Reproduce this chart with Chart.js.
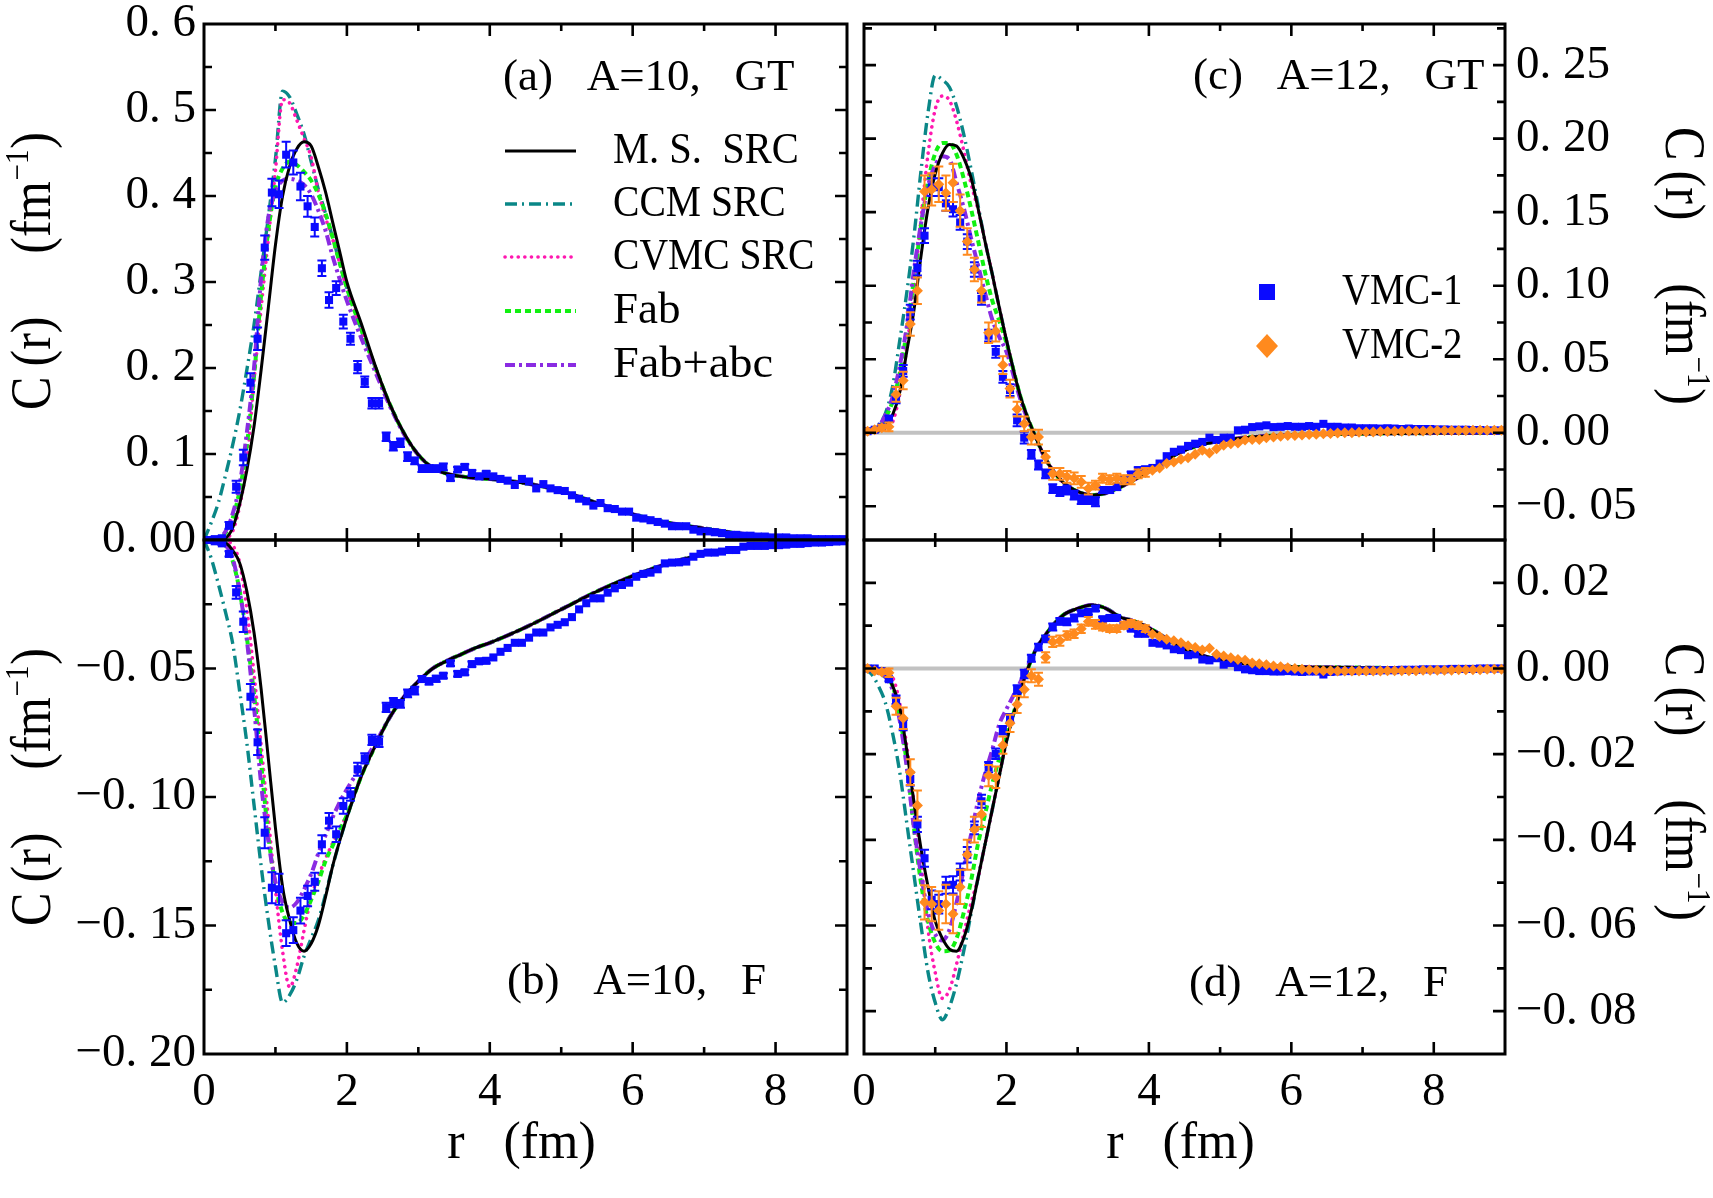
<!DOCTYPE html>
<html>
<head>
<meta charset="utf-8">
<title>C(r) panels</title>
<script src="https://cdn.jsdelivr.net/npm/chart.js"></script>
<style>
  body { margin: 0; background: #fff; }
  #wrap { position: relative; width: 1713px; height: 1198px; }
  #wrap canvas { position: absolute; left: 0; top: 0; }
</style>
</head>
<body>
<div id="wrap">
  <canvas id="panelA" width="1713" height="1198"></canvas>
  <canvas id="panelB" width="1713" height="1198"></canvas>
  <canvas id="panelC" width="1713" height="1198"></canvas>
  <canvas id="panelD" width="1713" height="1198"></canvas>
</div>
<script>
// r grid of the model curves (fm)
let rCurve = [0,0.1,0.2,0.3,0.4,0.5,0.6,0.7,0.8,0.9,1.0,
  1.1,1.2,1.3,1.4,1.5,1.6,1.7,1.8,1.9,2.0,
  2.2,2.4,2.6,2.8,3.0,3.2,3.4,3.6,3.8,4.0,
  4.5,5.0,5.5,6.0,6.5,7.0,7.5,8.0,8.5,9.0];

// r of the VMC points (fm)
let rPts = [0.05,0.15,0.25,0.35,0.45,0.55,0.65,0.75,0.85,0.95,
  1.05,1.15,1.25,1.35,1.45,1.55,1.65,1.75,1.85,1.95,
  2.05,2.15,2.25,2.35,2.45,2.55,2.65,2.75,2.85,2.95,
  3.05,3.15,3.25,3.35,3.45,3.55,3.65,3.75,3.85,3.95,
  4.05,4.15,4.25,4.35,4.45,4.55,4.65,4.75,4.85,4.95,
  5.05,5.15,5.25,5.35,5.45,5.55,5.65,5.75,5.85,5.95,
  6.05,6.15,6.25,6.35,6.45,6.55,6.65,6.75,6.85,6.95,
  7.05,7.15,7.25,7.35,7.45,7.55,7.65,7.75,7.85,7.95,
  8.05,8.15,8.25,8.35,8.45,8.55,8.65,8.75,8.85,8.95];

// (a) A=10, GT
let msA = [0,0,0,0.002,0.014,0.042,0.081,0.132,0.198,0.27,0.343,
  0.40,0.435,0.455,0.463,0.458,0.434,0.405,0.37,0.335,0.30,
  0.252,0.202,0.158,0.124,0.099,0.084,0.077,0.074,0.072,0.071,
  0.066,0.057,0.043,0.030,0.020,0.0135,0.0076,0.0043,0.0022,0.0006];
let ccmA = [0,0.02,0.043,0.075,0.11,0.15,0.198,0.25,0.312,0.375,0.443,
  0.522,0.515,0.495,0.472,0.44,0.408,0.38,0.352,0.322,0.293,
  0.245,0.2,0.158,0.124,0.099,0.084,0.077,0.074,0.072,0.071,
  0.066,0.057,0.043,0.030,0.020,0.0135,0.0076,0.0043,0.0022,0.0006];
let cvmcA = [0,0,0,0.002,0.01,0.04,0.09,0.185,0.27,0.35,0.43,
  0.512,0.508,0.488,0.467,0.445,0.405,0.375,0.35,0.322,0.293,
  0.245,0.2,0.158,0.124,0.099,0.084,0.077,0.074,0.072,0.071,
  0.066,0.057,0.043,0.030,0.020,0.0135,0.0076,0.0043,0.0022,0.0006];
let fabA = [0,0,0.002,0.008,0.025,0.058,0.11,0.19,0.285,0.36,0.41,
  0.432,0.44,0.436,0.428,0.418,0.402,0.38,0.352,0.322,0.293,
  0.245,0.2,0.158,0.124,0.099,0.084,0.077,0.074,0.072,0.071,
  0.066,0.057,0.043,0.030,0.020,0.0135,0.0076,0.0043,0.0022,0.0006];
let fabcA = [0,0,0.002,0.01,0.03,0.065,0.125,0.2,0.305,0.375,0.405,
  0.418,0.42,0.418,0.413,0.402,0.383,0.36,0.33,0.303,0.278,
  0.235,0.195,0.156,0.123,0.099,0.084,0.077,0.074,0.072,0.071,
  0.066,0.057,0.043,0.030,0.020,0.0135,0.0076,0.0043,0.0022,0.0006];
let vmc1A = [0,0.001,0.002,0.017,0.062,0.096,0.183,0.234,0.340,0.404,
  0.402,0.448,0.439,0.411,0.388,0.364,0.316,0.279,0.293,0.254,
  0.234,0.201,0.184,0.159,0.159,0.120,0.109,0.113,0.097,0.092,
  0.083,0.083,0.083,0.085,0.072,0.082,0.085,0.078,0.074,0.077,
  0.074,0.071,0.069,0.064,0.071,0.068,0.060,0.065,0.060,0.058,
  0.057,0.052,0.048,0.045,0.040,0.043,0.037,0.036,0.033,0.033,
  0.026,0.025,0.023,0.021,0.019,0.016,0.016,0.016,0.012,0.010,
  0.010,0.009,0.008,0.006,0.006,0.005,0.005,0.004,0.004,0.003,
  0.003,0.003,0.002,0.002,0.002,0.001,0.001,0.001,0.001,0.001];
let errA = [0,0,0.002,0.004,0.007,0.009,0.011,0.013,0.014,0.016,
  0.016,0.015,0.014,0.016,0.012,0.011,0.009,0.009,0.008,0.008,
  0.007,0.007,0.006,0.006,0.006,0.005,0.005,0.005,0.005,0.004,
  0.004,0.004,0.004,0.004,0.003,0.003,0.003,0.003,0.003,0.003];

// (b) A=10, F
let msB = [0,0,0,-0.001,-0.004,-0.009,-0.02,-0.036,-0.058,-0.085,-0.112,
  -0.135,-0.148,-0.157,-0.16,-0.157,-0.15,-0.139,-0.127,-0.117,-0.108,
  -0.092,-0.08,-0.069,-0.061,-0.055,-0.050,-0.047,-0.0445,-0.042,-0.040,
  -0.034,-0.027,-0.020,-0.014,-0.0091,-0.0055,-0.0032,-0.0015,-0.0007,-0.0002];
let ccmB = [0,-0.007,-0.017,-0.028,-0.04,-0.059,-0.079,-0.103,-0.127,-0.148,-0.166,
  -0.18,-0.177,-0.171,-0.162,-0.155,-0.148,-0.138,-0.127,-0.117,-0.108,
  -0.092,-0.08,-0.069,-0.061,-0.055,-0.050,-0.047,-0.0445,-0.042,-0.040,
  -0.034,-0.027,-0.020,-0.014,-0.0091,-0.0055,-0.0032,-0.0015,-0.0007,-0.0002];
let cvmcB = [0,0,0,-0.0005,-0.002,-0.009,-0.027,-0.052,-0.08,-0.108,-0.136,
  -0.16,-0.174,-0.166,-0.152,-0.139,-0.131,-0.124,-0.118,-0.112,-0.107,
  -0.092,-0.08,-0.069,-0.061,-0.055,-0.050,-0.047,-0.0445,-0.042,-0.040,
  -0.034,-0.027,-0.020,-0.014,-0.0091,-0.0055,-0.0032,-0.0015,-0.0007,-0.0002];
let fabB = [0,0,0,-0.002,-0.008,-0.02,-0.038,-0.06,-0.087,-0.115,-0.134,
  -0.145,-0.149,-0.149,-0.146,-0.14,-0.133,-0.125,-0.119,-0.113,-0.107,
  -0.092,-0.08,-0.069,-0.061,-0.055,-0.050,-0.047,-0.0445,-0.042,-0.040,
  -0.034,-0.027,-0.020,-0.014,-0.0091,-0.0055,-0.0032,-0.0015,-0.0007,-0.0002];
let fabcB = [0,0,0,-0.002,-0.007,-0.02,-0.039,-0.065,-0.095,-0.117,-0.133,
  -0.141,-0.143,-0.141,-0.136,-0.13,-0.122,-0.115,-0.108,-0.102,-0.097,
  -0.088,-0.079,-0.069,-0.061,-0.055,-0.050,-0.047,-0.0445,-0.042,-0.040,
  -0.034,-0.027,-0.020,-0.014,-0.0091,-0.0055,-0.0032,-0.0015,-0.0007,-0.0002];
let vmc1B = [0,-0.0005,-0.0013,-0.0054,-0.0204,-0.0318,-0.061,-0.0787,-0.1139,-0.1353,
  -0.1359,-0.153,-0.1518,-0.1442,-0.1385,-0.133,-0.1184,-0.1092,-0.1145,-0.1035,
  -0.099,-0.0892,-0.085,-0.0778,-0.0785,-0.0651,-0.0633,-0.0638,-0.0597,-0.0586,
  -0.0541,-0.055,-0.054,-0.0528,-0.048,-0.0521,-0.0515,-0.0483,-0.0472,-0.047,
  -0.0457,-0.0435,-0.042,-0.040,-0.040,-0.038,-0.036,-0.036,-0.034,-0.033,
  -0.032,-0.030,-0.027,-0.0246,-0.0227,-0.0227,-0.0205,-0.0188,-0.0175,-0.0166,
  -0.0143,-0.0132,-0.0127,-0.0114,-0.0091,-0.0088,-0.0087,-0.0084,-0.0065,-0.0054,
  -0.0049,-0.0049,-0.0045,-0.0039,-0.0039,-0.0026,-0.0023,-0.0023,-0.0023,-0.002,
  -0.002,-0.0018,-0.0015,-0.0015,-0.0012,-0.001,-0.001,-0.0008,-0.0006,-0.0005];
let errB = [0,0,0.0005,0.001,0.0025,0.004,0.005,0.005,0.006,0.006,
  0.006,0.005,0.005,0.005,0.004,0.0035,0.0035,0.003,0.003,0.003,
  0.0025,0.0025,0.002,0.002,0.002,0.0018,0.0018,0.0015,0.0015,0.0015,
  0.0012,0.0012,0.0012,0.001,0.001,0.001,0.001,0.001,0.001,0.001];

// (c) A=12, GT
let msC = [0,0.0003,0.001,0.004,0.012,0.027,0.055,0.083,0.12,0.153,0.176,
  0.19,0.196,0.195,0.187,0.174,0.153,0.13,0.108,0.085,0.063,
  0.024,-0.002,-0.022,-0.034,-0.040,-0.0425,-0.041,-0.037,-0.032,-0.026,
  -0.012,-0.0055,-0.0027,-0.0015,-0.001,-0.0007,-0.0005,-0.0003,-0.0002,-0.0001];
let ccmC = [0,0.001,0.005,0.013,0.031,0.062,0.095,0.133,0.178,0.218,0.243,
  0.24,0.235,0.222,0.203,0.18,0.155,0.13,0.108,0.085,0.063,
  0.024,-0.002,-0.022,-0.034,-0.040,-0.0425,-0.041,-0.037,-0.032,-0.026,
  -0.012,-0.0055,-0.0027,-0.0015,-0.001,-0.0007,-0.0005,-0.0003,-0.0002,-0.0001];
let cvmcC = [0,0,0.001,0.003,0.007,0.026,0.058,0.097,0.145,0.19,0.22,
  0.229,0.226,0.212,0.192,0.17,0.152,0.13,0.108,0.085,0.063,
  0.024,-0.002,-0.022,-0.034,-0.040,-0.0425,-0.041,-0.037,-0.032,-0.026,
  -0.012,-0.0055,-0.0027,-0.0015,-0.001,-0.0007,-0.0005,-0.0003,-0.0002,-0.0001];
let fabC = [0,0.001,0.003,0.01,0.021,0.04,0.069,0.104,0.14,0.171,0.19,
  0.197,0.197,0.189,0.173,0.153,0.131,0.109,0.09,0.076,0.061,
  0.024,-0.002,-0.022,-0.034,-0.040,-0.0425,-0.041,-0.037,-0.032,-0.026,
  -0.012,-0.0055,-0.0027,-0.0015,-0.001,-0.0007,-0.0005,-0.0003,-0.0002,-0.0001];
let fabcC = [0,0.001,0.004,0.012,0.024,0.045,0.072,0.11,0.142,0.168,0.182,
  0.188,0.186,0.17,0.153,0.133,0.114,0.095,0.077,0.065,0.055,
  0.022,-0.003,-0.022,-0.034,-0.040,-0.0425,-0.041,-0.037,-0.032,-0.026,
  -0.012,-0.0055,-0.0027,-0.0015,-0.001,-0.0007,-0.0005,-0.0003,-0.0002,-0.0001];
let vmc1C = [0.001,0.002,0.004,0.0095,0.023,0.042,0.082,0.112,0.134,0.167,
  0.167,0.156,0.152,0.143,0.130,0.111,0.091,0.066,0.055,0.038,
  0.029,0.0084,-0.0034,-0.0147,-0.022,-0.028,-0.038,-0.040,-0.039,-0.0425,
  -0.0455,-0.0455,-0.047,-0.039,-0.039,-0.037,-0.032,-0.0285,-0.0255,-0.025,
  -0.024,-0.021,-0.016,-0.013,-0.0115,-0.009,-0.0075,-0.0063,-0.0034,-0.005,
  -0.0034,-0.0034,0.0016,0.002,0.0038,0.0043,0.005,0.0038,0.004,0.0045,
  0.004,0.004,0.0045,0.004,0.006,0.004,0.004,0.0035,0.0035,0.003,
  0.003,0.003,0.0028,0.003,0.0028,0.0025,0.0028,0.0025,0.0025,0.0025,
  0.0022,0.0022,0.002,0.002,0.002,0.0018,0.0018,0.0015,0.0015,0.0015];
let errC1 = [0,0,0.001,0.002,0.003,0.004,0.005,0.005,0.005,0.006,
  0.006,0.005,0.005,0.005,0.005,0.005,0.004,0.004,0.004,0.004,
  0.004,0.004,0.004,0.003,0.003,0.003,0.003,0.003,0.003,0.003,
  0.003,0.003,0.003,0.002,0.002,0.002,0.002,0.002,0.002,0.002];
let vmc2C = [0.001,0.002,0.0034,0.004,0.026,0.0355,0.074,0.0966,0.164,0.1655,
  0.169,0.163,0.170,0.151,0.130,0.111,0.0966,0.068,0.069,0.046,
  0.030,0.016,0.006,-0.003,-0.003,-0.0165,-0.028,-0.028,-0.030,-0.031,
  -0.0335,-0.038,-0.0357,-0.031,-0.032,-0.031,-0.032,-0.032,-0.028,-0.027,
  -0.0255,-0.024,-0.021,-0.020,-0.018,-0.017,-0.0147,-0.012,-0.0138,-0.011,
  -0.0086,-0.0075,-0.007,-0.005,-0.0047,-0.0047,-0.0034,-0.003,-0.0025,-0.002,
  -0.002,-0.0015,-0.0012,-0.001,-0.0008,-0.0005,-0.0003,0,0,0.0003,
  0.0005,0.0005,0.0008,0.0008,0.001,0.001,0.0012,0.0012,0.0012,0.0015,
  0.0015,0.0015,0.0015,0.0015,0.0015,0.0016,0.0016,0.0016,0.0016,0.0016];
let errC2 = [0,0,0.002,0.003,0.005,0.006,0.008,0.009,0.011,0.011,
  0.012,0.012,0.013,0.011,0.009,0.008,0.008,0.007,0.007,0.006,
  0.006,0.005,0.005,0.005,0.005,0.004,0.004,0.004,0.004,0.004,
  0.004,0.004,0.003,0.003,0.003,0.003,0.003,0.003,0.003,0.003];

// (d) A=12, F
let msD = [0,0,-0.0003,-0.0008,-0.004,-0.009,-0.019,-0.031,-0.042,-0.051,-0.059,
  -0.063,-0.0655,-0.066,-0.063,-0.057,-0.049,-0.041,-0.033,-0.025,-0.017,
  -0.005,0.004,0.009,0.0125,0.014,0.0148,0.014,0.012,0.011,0.0095,
  0.0045,0.002,0.0009,0.0004,0.0003,0.0002,0.0001,0,0,0];
let ccmD = [0,-0.0012,-0.004,-0.008,-0.015,-0.024,-0.036,-0.048,-0.06,-0.071,-0.078,
  -0.082,-0.079,-0.0735,-0.066,-0.0575,-0.049,-0.041,-0.033,-0.025,-0.017,
  -0.005,0.004,0.009,0.0125,0.014,0.0148,0.014,0.012,0.011,0.0095,
  0.0045,0.002,0.0009,0.0004,0.0003,0.0002,0.0001,0,0,0];
let cvmcD = [0,0,-0.0005,-0.001,-0.002,-0.008,-0.018,-0.031,-0.045,-0.061,-0.071,
  -0.077,-0.075,-0.069,-0.062,-0.055,-0.049,-0.041,-0.033,-0.025,-0.017,
  -0.005,0.004,0.009,0.0125,0.014,0.0148,0.014,0.012,0.011,0.0095,
  0.0045,0.002,0.0009,0.0004,0.0003,0.0002,0.0001,0,0,0];
let fabD = [0,0,-0.001,-0.002,-0.004,-0.011,-0.022,-0.037,-0.05,-0.059,-0.064,
  -0.066,-0.0658,-0.063,-0.057,-0.0498,-0.041,-0.034,-0.027,-0.021,-0.016,
  -0.005,0.004,0.009,0.0125,0.014,0.0148,0.014,0.012,0.011,0.0095,
  0.0045,0.002,0.0009,0.0004,0.0003,0.0002,0.0001,0,0,0];
let fabcD = [0,0,-0.001,-0.002,-0.005,-0.012,-0.023,-0.037,-0.048,-0.057,-0.062,
  -0.0635,-0.061,-0.0546,-0.047,-0.039,-0.031,-0.0245,-0.019,-0.013,-0.0095,
  -0.003,0.004,0.009,0.0125,0.014,0.0148,0.014,0.012,0.011,0.0095,
  0.0045,0.002,0.0009,0.0004,0.0003,0.0002,0.0001,0,0,0];
let vmc1D = [0,0,-0.0006,-0.0025,-0.0073,-0.0132,-0.0258,-0.0364,-0.0443,-0.054,
  -0.055,-0.0506,-0.0505,-0.0475,-0.0435,-0.0372,-0.031,-0.023,-0.0199,-0.0144,
  -0.0116,-0.0049,-0.0013,0.0024,0.005,0.0069,0.0097,0.011,0.0109,0.0118,
  0.0129,0.0132,0.014,0.0115,0.0118,0.0118,0.0101,0.0093,0.0081,0.0081,
  0.006,0.0058,0.0054,0.0045,0.0043,0.0031,0.0033,0.0021,0.0019,0.0024,
  0.0009,0.0013,0.0003,-0.0002,-0.0004,-0.0006,-0.0006,-0.0007,-0.0007,-0.0006,
  -0.0007,-0.0008,-0.0007,-0.0007,-0.0014,-0.0008,-0.0007,-0.0006,-0.0006,-0.0005,
  -0.0005,-0.0005,-0.0004,-0.0004,-0.0004,-0.0003,-0.0003,-0.0003,-0.0002,-0.0002,
  -0.0002,-0.0002,-0.0001,-0.0001,-0.0001,-0.0001,0,0,0,0];
let errD1 = [0,0,0.0003,0.0005,0.001,0.0012,0.0015,0.0018,0.002,0.0022,
  0.0022,0.002,0.002,0.002,0.0018,0.0015,0.0015,0.0012,0.0012,0.001,
  0.001,0.001,0.001,0.0008,0.0008,0.0008,0.0008,0.0008,0.0008,0.0008,
  0.0006,0.0006,0.0006,0.0006,0.0006,0.0005,0.0005,0.0005,0.0005,0.0005];
let vmc2D = [0,-0.0005,-0.0008,-0.001,-0.0088,-0.0116,-0.0242,-0.032,-0.0546,-0.055,
  -0.0565,-0.055,-0.0573,-0.051,-0.0435,-0.0376,-0.034,-0.025,-0.0254,-0.0179,
  -0.0128,-0.0084,-0.0049,-0.0017,-0.0025,0.0026,0.0062,0.0065,0.0077,0.0081,
  0.0093,0.011,0.0103,0.0097,0.0093,0.0093,0.0101,0.0105,0.0101,0.0093,
  0.008,0.0075,0.0068,0.0065,0.006,0.0053,0.0049,0.0043,0.0047,0.0033,
  0.0029,0.0025,0.0021,0.0019,0.0013,0.0011,0.0009,0.0006,0.0004,0.0002,
  0,-0.0002,-0.0003,-0.0004,-0.0005,-0.0005,-0.0006,-0.0006,-0.0006,-0.0006,
  -0.0006,-0.0006,-0.0006,-0.0005,-0.0005,-0.0005,-0.0005,-0.0005,-0.0004,-0.0004,
  -0.0004,-0.0004,-0.0004,-0.0003,-0.0003,-0.0003,-0.0003,-0.0002,-0.0002,-0.0002];
let errD2 = [0,0,0.0005,0.001,0.002,0.0025,0.003,0.0035,0.004,0.004,
  0.0045,0.0045,0.0045,0.004,0.0035,0.003,0.003,0.0025,0.0025,0.002,
  0.002,0.002,0.0018,0.0015,0.0015,0.0012,0.0012,0.0012,0.001,0.001,
  0.001,0.001,0.001,0.0008,0.0008,0.0008,0.0008,0.0008,0.0008,0.0008];

let xTickLabels = [0, 2, 4, 6, 8];

const FONT = "'Liberation Serif', 'Times New Roman', serif";
const W = 1713, H = 1198;
const BLUE = '#0a0aff', ORANGE = '#ff8a1e', TEAL = '#0a8787', PINK = '#ff18b0',
      GREEN = '#11f011', PURPLE = '#8a2be2';
const Y_AXIS_W = 160, X_AXIS_H = 90;

function isMult(v, step) {
  let k = v / step;
  return Math.abs(k - Math.round(k)) < 1e-6;
}

function fmt(v, dec) {
  let s = Math.abs(v).toFixed(dec).replace('.', '. ');
  return (v < -1e-9 ? '\u2212' : '') + s;
}

// text squeezed a little sideways, like the narrow font of the original
function squeezeText(ctx, s, x, y, size, sx) {
  ctx.save();
  ctx.font = size + 'px ' + FONT;
  ctx.translate(x, y);
  ctx.scale(sx, 1);
  ctx.fillText(s, 0, 0);
  ctx.restore();
}

// ERROR BARS + FRAME + TEXT
const deco = {
  id: 'deco',
  beforeDatasetsDraw(chart, args, o) {
    if (!o.zeroLine) return;
    const {ctx, chartArea: a, scales: {y}} = chart;
    let py = y.getPixelForValue(0);
    ctx.save();
    ctx.strokeStyle = '#c2c2c2';
    ctx.lineWidth = 4;
    ctx.beginPath(); ctx.moveTo(a.left, py); ctx.lineTo(a.right, py); ctx.stroke();
    ctx.restore();
  },
  beforeDatasetDraw(chart, args) {
    let ds = chart.data.datasets[args.index];
    if (!ds.errs) return;
    const {ctx, scales: {x, y}} = chart;
    ctx.save();
    ctx.strokeStyle = ds.pointBackgroundColor;
    ctx.lineWidth = 2;
    ds.errs.forEach((e, i) => {
      if (!e) return;
      let p = ds.data[i];
      let px = x.getPixelForValue(p.x);
      let y1 = y.getPixelForValue(p.y - e), y2 = y.getPixelForValue(p.y + e);
      ctx.beginPath();
      ctx.moveTo(px, y1); ctx.lineTo(px, y2);
      ctx.moveTo(px - 4.5, y1); ctx.lineTo(px + 4.5, y1);
      ctx.moveTo(px - 4.5, y2); ctx.lineTo(px + 4.5, y2);
      ctx.stroke();
    });
    ctx.restore();
  },
  afterDraw(chart, args, o) {
    const {ctx, chartArea: a, scales: {x, y}} = chart;
    ctx.save();
    ctx.strokeStyle = '#000';
    ctx.lineWidth = 3;
    ctx.strokeRect(a.left, a.top, a.right - a.left, a.bottom - a.top);
    ctx.lineWidth = 2.6;
    x.ticks.forEach(t => {
      let v = t.value;
      if (v < 0.01 || v > 8.99) return;
      let px = x.getPixelForValue(v);
      let len = isMult(v, 2) ? 12 : 7;
      ctx.beginPath();
      ctx.moveTo(px, a.bottom); ctx.lineTo(px, a.bottom - len);
      ctx.moveTo(px, a.top); ctx.lineTo(px, a.top + len);
      ctx.stroke();
    });
    y.ticks.forEach(t => {
      let py = y.getPixelForValue(t.value);
      if (py < a.top + 3 || py > a.bottom - 3) return;
      let len = isMult(t.value, o.yMajor) ? 12 : 8;
      ctx.beginPath();
      ctx.moveTo(a.left, py); ctx.lineTo(a.left + len, py);
      ctx.moveTo(a.right, py); ctx.lineTo(a.right - len, py);
      ctx.stroke();
    });

    ctx.fillStyle = '#000';
    ctx.textAlign = 'left';
    ctx.textBaseline = 'middle';
    squeezeText(ctx, o.tag, o.tagX, o.tagY, 45, 1);

    if (o.legend === 'lines') {
      let rows = [['M.S. SRC', 'M. S.  SRC', 151, 0.9], ['CCM SRC', 'CCM SRC', 204, 0.88],
                  ['CVMC SRC', 'CVMC SRC', 257, 0.88], ['Fab', 'Fab', 311, 1], ['Fab+abc', 'Fab+abc', 365, 1.03]];
      rows.forEach(([lab, txt, ry, sx]) => {
        let ds = chart.data.datasets.find(d => d.label === lab);
        ctx.save();
        ctx.strokeStyle = ds.borderColor;
        ctx.lineWidth = ds.borderWidth;
        ctx.setLineDash(ds.borderDash || []);
        ctx.lineCap = ds.borderCapStyle || 'butt';
        ctx.beginPath(); ctx.moveTo(505, ry); ctx.lineTo(576, ry); ctx.stroke();
        ctx.restore();
        squeezeText(ctx, txt, 613, ry, 45, sx);
      });
    }
    if (o.legend === 'points') {
      ctx.fillStyle = BLUE;
      ctx.fillRect(1267 - 8, 292 - 8, 16, 16);
      ctx.fillStyle = ORANGE;
      ctx.beginPath();
      ctx.moveTo(1267, 346 - 12); ctx.lineTo(1267 + 11, 346);
      ctx.lineTo(1267, 346 + 12); ctx.lineTo(1267 - 11, 346);
      ctx.closePath(); ctx.fill();
      ctx.fillStyle = '#000';
      squeezeText(ctx, 'VMC-1', 1342, 292, 45, 0.86);
      squeezeText(ctx, 'VMC-2', 1342, 346, 45, 0.86);
    }

    // axis titles
    drawYTitle(ctx, o.titleX, o.titleY, o.titleRot);
    if (o.xTitle) {
      ctx.font = '52px ' + FONT;
      ctx.textAlign = 'center';
      ctx.textBaseline = 'alphabetic';
      ctx.fillText('r   (fm)', (a.left + a.right) / 2 - 4, 1146 + 12);
    }
    ctx.restore();
  }
};

function drawYTitle(ctx, cx, cy, rot) {
  const main = 'C\u2009(r)     (fm', sup = '\u22121', tail = ')';
  ctx.save();
  ctx.translate(cx, cy);
  ctx.rotate(rot);
  ctx.scale(0.88, 1);
  ctx.fillStyle = '#000';
  ctx.textAlign = 'left';
  ctx.textBaseline = 'alphabetic';
  ctx.font = '57px ' + FONT;
  let w1 = ctx.measureText(main).width, w3 = ctx.measureText(tail).width;
  ctx.font = '33px ' + FONT;
  let w2 = ctx.measureText(sup).width;
  let x0 = -(w1 + w2 + w3 + 2) / 2;
  ctx.font = '57px ' + FONT;
  ctx.fillText(main, x0, 13);
  ctx.font = '33px ' + FONT;
  ctx.fillText(sup, x0 + w1 + 1, -9);
  ctx.font = '57px ' + FONT;
  ctx.fillText(tail, x0 + w1 + w2 + 2, 13);
  ctx.restore();
}

function curveSet(label, ys, color, dash, width, cap) {
  return {
    label, data: rCurve.map((r, i) => ({x: r, y: ys[i]})),
    borderColor: color, borderWidth: width, borderDash: dash, borderCapStyle: cap || 'butt',
    pointRadius: 0, fill: false, cubicInterpolationMode: 'monotone'
  };
}

function pointSet(label, ys, errs, color, style, radius) {
  return {
    label, data: rPts.map((r, i) => ({x: r, y: ys[i]})), errs,
    showLine: false, pointStyle: style, pointRadius: radius,
    pointBackgroundColor: color, pointBorderWidth: 0, borderColor: color
  };
}

const panels = [
  {id: 'panelA', box: [204, 24, 847, 540], yMin: 0, yMax: 0.6, yStep: 0.05, yMajor: 0.1, dec: 1, skipZero: true,
   yPos: 'left', xLabels: false, curves: [msA, ccmA, cvmcA, fabA, fabcA], v1: [vmc1A, errA],
   deco: {tag: '(a)   A=10,   GT', tagX: 503, tagY: 78, legend: 'lines', yMajor: 0.1,
          titleX: 37, titleY: 271, titleRot: -Math.PI / 2, zeroLine: false, xTitle: false}},
  {id: 'panelB', box: [204, 540, 847, 1054], yMin: -0.2, yMax: 0, yStep: 0.025, yMajor: 0.05, dec: 2, skipZero: false,
   yPos: 'left', xLabels: true, curves: [msB, ccmB, cvmcB, fabB, fabcB], v1: [vmc1B, errB],
   deco: {tag: '(b)   A=10,   F', tagX: 507, tagY: 982, legend: 'none', yMajor: 0.05,
          titleX: 37, titleY: 787, titleRot: -Math.PI / 2, zeroLine: false, xTitle: true}},
  {id: 'panelC', box: [864, 24, 1505, 540], yMin: -0.073, yMax: 0.278, yStep: 0.025, yMajor: 0.05, dec: 2, skipZero: false,
   yPos: 'right', xLabels: false, curves: [msC, ccmC, cvmcC, fabC, fabcC], v1: [vmc1C, errC1], v2: [vmc2C, errC2],
   deco: {tag: '(c)   A=12,   GT', tagX: 1193, tagY: 77, legend: 'points', yMajor: 0.05,
          titleX: 1679, titleY: 266, titleRot: Math.PI / 2, zeroLine: true, xTitle: false}},
  {id: 'panelD', box: [864, 540, 1505, 1054], yMin: -0.09, yMax: 0.03, yStep: 0.01, yMajor: 0.02, dec: 2, skipZero: false,
   yPos: 'right', xLabels: true, curves: [msD, ccmD, cvmcD, fabD, fabcD], v1: [vmc1D, errD1], v2: [vmc2D, errD2],
   deco: {tag: '(d)   A=12,   F', tagX: 1189, tagY: 984, legend: 'none', yMajor: 0.02,
          titleX: 1679, titleY: 782, titleRot: Math.PI / 2, zeroLine: true, xTitle: true}}
];

panels.forEach(p => {
  const [L, T, R, B] = p.box;
  const [ms, ccm, cvmc, fab, fabc] = p.curves;
  let datasets = [];
  if (p.v2) datasets.push(pointSet('VMC-2', p.v2[0], p.v2[1], ORANGE, 'rectRot', 5.5));
  datasets.push(pointSet('VMC-1', p.v1[0], p.v1[1], BLUE, 'rect', 5.7));
  datasets.push(curveSet('M.S. SRC', ms, '#000000', [], 3));
  datasets.push(curveSet('Fab+abc', fabc, PURPLE, [10, 4, 3, 4], 4));
  datasets.push(curveSet('Fab', fab, GREEN, [6, 4], 4));
  datasets.push(curveSet('CVMC SRC', cvmc, PINK, [0.1, 6.5], 3.6, 'round'));
  datasets.push(curveSet('CCM SRC', ccm, TEAL, [12, 5, 2, 5], 3.4));

  // the axis boxes need real size, or Chart.js clips their labels away
  let xH = p.xLabels ? X_AXIS_H : 0;
  let pad = {
    left: p.yPos === 'left' ? L - Y_AXIS_W : L,
    right: p.yPos === 'right' ? W - R - Y_AXIS_W : W - R,
    top: T,
    bottom: H - B - xH
  };

  new Chart(document.getElementById(p.id), {
    type: 'line',
    data: {datasets},
    options: {
      responsive: false,
      animation: false,
      devicePixelRatio: 1,
      layout: {padding: pad, autoPadding: false},
      plugins: {legend: {display: false}, tooltip: {enabled: false}, deco: p.deco},
      scales: {
        x: {
          type: 'linear', min: 0, max: 9,
          grid: {display: false, drawTicks: false}, border: {display: false},
          ticks: {
            display: p.xLabels, stepSize: 1, autoSkip: false, maxRotation: 0, includeBounds: false,
            padding: 10, color: '#000', font: {family: FONT, size: 47},
            callback: v => xTickLabels.includes(v) ? String(v) : ''
          },
          afterFit: s => { s.height = xH; s.paddingLeft = 0; s.paddingRight = 0; }
        },
        y: {
          type: 'linear', position: p.yPos, min: p.yMin, max: p.yMax,
          grid: {display: false, drawTicks: false}, border: {display: false},
          ticks: {
            stepSize: p.yStep, autoSkip: false, includeBounds: false,
            padding: p.yPos === 'left' ? 8 : 11, color: '#000', font: {family: FONT, size: 47},
            callback: v => {
              if (!isMult(v, p.yMajor)) return '';
              if (p.skipZero && Math.abs(v) < 1e-9) return '';
              return fmt(v, p.dec);
            }
          },
          afterFit: s => { s.width = Y_AXIS_W; s.paddingTop = 0; s.paddingBottom = 0; }
        }
      }
    },
    plugins: [deco]
  });
});
</script>
</body>
</html>
